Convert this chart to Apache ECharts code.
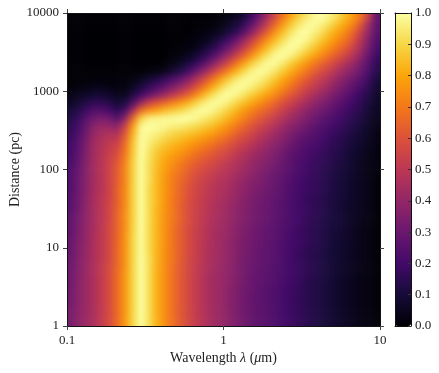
<!DOCTYPE html>
<html>
<head>
<meta charset="utf-8">
<style>
html,body{margin:0;padding:0;background:#fff}
#page{position:relative;width:439px;height:373px;overflow:hidden}
#plotWindow{position:absolute;left:67px;top:13px;width:313px;height:313px;overflow:hidden}
/* the heatmap runs 2 cells past the frame so the blur does not fade at the edges */
#heat{position:absolute;left:-16px;top:-16px;width:345px;height:345px;filter:blur(3px)}
#main{position:absolute;left:0;top:0;width:439px;height:373px}
</style>
<script src="https://cdn.jsdelivr.net/npm/echarts@6/dist/echarts.min.js"></script>
</head>
<body>
<div id="page">
<div id="plotWindow"><div id="heat"></div></div>
<div id="main"></div>
</div>
<script>
// values in percent of the colour range, top row (10000 pc) first, left column (0.1 um) first
var fluxRows = [
[0,0,0,0,0,0,0,0,0,0,0,0,0,0,0,0,0,0,0,1,2,4,9,18,29,42,55,68,78,87,93,98,100,97,92,85,78,70,54,28],
[0,0,0,0,0,0,0,0,0,0,0,0,0,0,0,0,0,1,1,2,5,9,16,26,38,51,64,76,86,93,98,99,97,92,86,80,73,62,44,27],
[0,0,0,0,0,0,0,0,0,0,0,0,0,0,0,0,1,2,3,5,9,15,24,36,49,62,74,84,92,98,100,97,92,86,80,74,66,54,40,26],
[0,0,0,0,0,0,0,0,0,0,0,0,0,0,0,1,2,4,7,12,19,28,39,51,63,74,83,91,97,100,98,93,87,81,75,69,61,49,36,24],
[0,0,0,0,0,0,0,0,0,0,0,0,0,0,1,2,4,8,13,20,29,39,50,62,73,83,91,97,100,98,93,87,81,75,69,63,55,45,33,22],
[0,0,0,0,0,0,0,0,0,0,0,0,0,1,2,5,9,15,22,31,41,52,63,74,84,92,98,100,97,92,86,80,74,68,62,56,49,40,29,19],
[0,0,0,0,0,0,0,0,0,0,0,0,1,3,6,11,17,25,35,45,56,67,78,87,94,99,99,95,89,83,77,71,65,60,54,48,42,34,25,16],
[0,0,0,0,0,0,0,0,0,0,1,2,4,8,13,20,29,39,50,61,71,81,89,96,99,98,94,88,82,76,70,64,58,53,47,41,36,30,22,14],
[0,0,1,1,1,1,1,1,3,5,9,12,17,22,28,36,46,56,67,77,86,93,98,99,97,93,87,81,75,69,63,57,52,47,41,36,31,26,19,11],
[1,2,3,4,4,3,2,2,6,11,17,22,28,34,41,49,59,69,79,88,95,99,99,96,92,87,81,75,69,63,57,52,47,42,37,32,27,22,16,9],
[3,5,7,9,9,7,5,5,12,20,28,35,42,49,56,64,73,83,91,97,100,98,94,89,84,79,74,68,62,57,51,46,41,37,32,28,23,18,13,8],
[6,9,13,16,16,13,9,11,24,40,53,60,65,71,76,82,89,95,99,99,96,91,86,81,76,71,66,60,55,50,45,40,36,32,28,24,20,16,11,7],
[9,13,19,24,24,21,15,22,44,67,74,79,84,87,90,94,98,100,98,94,89,84,78,73,68,64,59,54,49,44,39,35,31,28,24,21,17,14,9,6],
[12,17,25,31,33,31,25,38,66,88,96,97,98,99,100,100,98,95,92,88,83,78,72,67,62,58,53,48,43,39,35,31,27,24,21,18,15,12,8,5],
[15,20,29,37,41,40,38,54,78,98,100,99,98,96,95,93,91,88,85,81,76,71,66,61,56,52,47,43,38,35,31,27,24,21,19,16,13,10,7,4],
[17,23,32,41,45,47,47,62,83,99,98,96,93,90,88,86,84,81,78,74,70,65,60,56,51,47,43,39,35,31,28,25,22,19,17,14,12,9,6,3],
[19,25,34,43,47,51,53,66,86,100,96,92,88,85,83,80,77,74,71,67,63,59,55,51,47,43,39,36,32,28,25,23,20,17,15,13,10,8,5,3],
[20,26,35,44,48,53,57,69,87,100,94,88,84,81,78,75,71,68,65,61,58,54,50,47,43,40,36,33,29,26,23,21,18,16,14,12,9,7,4,2],
[21,27,36,44,49,54,60,71,88,100,93,86,81,77,74,70,66,63,60,57,54,50,47,43,40,37,34,31,27,24,22,19,17,15,13,11,8,6,4,2],
[22,28,37,44,49,55,62,73,89,100,92,85,79,74,70,66,62,59,56,53,50,47,44,41,38,35,32,29,26,23,20,18,16,14,12,10,8,5,3,2],
[23,29,37,44,49,55,63,73,89,100,92,84,78,72,68,63,59,56,53,50,48,45,42,39,36,33,30,28,25,22,20,17,15,13,11,9,7,5,3,1],
[24,30,38,44,49,55,63,73,89,100,92,84,77,71,66,62,57,54,51,48,46,43,40,37,35,32,29,27,24,21,19,17,15,13,11,9,7,5,3,1],
[24,30,38,44,49,55,64,74,89,100,91,84,77,71,65,60,56,53,50,47,45,42,39,36,34,31,29,26,24,21,19,17,15,13,11,9,7,5,3,1],
[25,31,38,45,50,55,64,74,89,100,91,84,77,70,65,60,55,52,49,46,44,41,38,35,33,30,28,26,23,21,18,16,14,12,11,9,7,5,3,1],
[25,31,39,45,50,56,64,74,89,100,91,84,77,70,64,59,55,51,48,45,43,40,37,34,32,30,27,25,23,20,18,16,14,12,10,8,7,5,3,1],
[26,32,39,45,50,56,65,75,89,100,91,83,76,70,64,59,54,51,47,45,42,39,36,34,31,29,27,25,22,20,18,16,14,12,10,8,6,5,3,1],
[27,33,39,45,50,56,65,75,89,100,91,83,76,70,64,59,54,50,47,44,42,39,36,33,31,29,26,24,22,20,17,15,13,11,10,8,6,4,3,1],
[27,33,40,45,51,57,65,75,89,100,91,83,76,69,63,58,54,50,46,44,41,38,35,33,30,28,26,24,22,19,17,15,13,11,10,8,6,4,2,1],
[28,34,40,46,51,57,65,76,90,100,91,83,76,69,63,58,53,50,46,43,41,38,35,32,30,28,26,24,21,19,17,15,13,11,9,8,6,4,2,1],
[29,35,40,46,51,57,66,76,90,100,91,83,76,69,63,58,53,49,46,43,40,37,34,32,30,27,25,23,21,19,17,15,13,11,9,7,6,4,2,1],
[29,35,41,46,51,57,66,76,90,100,91,83,75,69,63,58,53,49,45,43,40,37,34,31,29,27,25,23,21,18,16,14,12,10,9,7,6,4,2,1],
[30,36,41,46,51,57,66,76,90,100,92,83,75,69,63,57,53,49,45,43,40,37,33,31,29,27,25,23,20,18,16,14,12,10,9,7,5,4,2,1],
[30,36,41,46,52,58,66,76,90,100,92,82,75,68,62,57,52,48,45,42,39,36,33,30,28,26,24,22,20,18,16,14,12,10,8,7,5,4,2,1],
[31,36,42,46,52,58,67,77,90,100,92,82,75,68,62,57,52,48,44,42,39,36,33,30,28,26,24,22,20,18,16,14,12,10,8,7,5,3,2,1],
[31,37,42,46,52,58,67,77,90,100,92,82,75,68,62,57,52,48,44,42,39,36,33,30,28,26,24,22,20,18,15,13,11,10,8,6,5,3,2,1],
[32,37,42,46,52,58,67,77,90,100,92,82,75,68,62,57,52,48,44,42,38,35,32,30,27,25,23,21,19,17,15,13,11,9,8,6,5,3,2,1],
[32,37,42,46,52,58,67,77,90,100,92,82,75,68,62,57,52,48,44,42,38,35,32,29,27,25,23,21,19,17,15,13,11,9,8,6,5,3,2,1],
[33,38,42,46,52,58,67,77,90,100,92,82,75,68,62,57,52,48,44,42,38,35,32,29,27,25,23,21,19,17,15,13,11,9,8,6,5,3,2,1],
[33,38,42,46,52,58,67,77,90,100,92,82,75,68,62,57,52,48,44,42,38,35,32,29,27,25,23,21,19,17,15,13,11,9,8,6,5,3,2,1],
[33,38,42,46,52,58,67,77,90,100,92,82,75,68,62,57,52,48,44,42,38,35,32,29,27,25,23,21,19,17,15,13,11,9,8,6,5,3,2,1]
];
var wavelengthTicks = [0.1, 1, 10];
var distanceTicks = [1, 10, 100, 1000, 10000];
var infernoStops = ['#000004','#160b39','#420a68','#6a176e','#932667','#bc3754','#dd513a','#f37819','#fca50a','#f6d746','#fcffa4'];

var fontName = '"Liberation Serif", serif';
var inkColor = '#222';
var edgeCells = 2;

var nCols = fluxRows[0].length, nRows = fluxRows.length;
var cols = [], rows = [], cells = [];
for (var c = -edgeCells; c < nCols + edgeCells; c++) cols.push(c);
for (var r = -edgeCells; r < nRows + edgeCells; r++) rows.push(r);
// cells outside the frame repeat the nearest edge value, they are clipped by #plotWindow
rows.forEach(function (rv, ri) {
    var row = fluxRows[Math.min(nRows - 1, Math.max(0, rv))];
    cols.forEach(function (cv, ci) {
        cells.push([ci, ri, row[Math.min(nCols - 1, Math.max(0, cv))] / 100]);
    });
});

var heatChart = echarts.init(document.getElementById('heat'));
heatChart.setOption({
    animation: false,
    grid: {left: 0, top: 0, right: 0, bottom: 0, outerBoundsMode: 'none'},
    xAxis: {type: 'category', data: cols, show: false},
    yAxis: {type: 'category', data: rows, inverse: true, show: false},
    visualMap: {show: false, min: 0, max: 1, seriesIndex: 0, inRange: {color: infernoStops}},
    series: [{type: 'heatmap', data: cells, progressive: 0, emphasis: {disabled: true}}]
});

// log axis used only for ticks and the frame, the heatmap sits in its own chart underneath
function logAxis(position, ticks, showLabel, name, nameGap) {
    return {
        type: 'log',
        logBase: 10,
        gridIndex: 0,
        position: position,
        min: ticks[0],
        max: ticks[ticks.length - 1],
        z: 10,
        name: name,
        nameLocation: 'middle',
        nameGap: nameGap,
        nameMoveOverlap: false,
        nameTextStyle: {
            fontFamily: fontName, fontSize: 14, color: inkColor,
            rich: {i: {fontFamily: fontName, fontStyle: 'italic', fontSize: 14, color: inkColor}}
        },
        axisLine: {show: true, onZero: false, lineStyle: {color: '#111', width: 1}},
        axisTick: {show: true, inside: false, length: 4, lineStyle: {color: '#444', width: 1}},
        minorTick: {show: false},
        splitLine: {show: false},
        minorSplitLine: {show: false},
        axisLabel: {
            show: showLabel, margin: 8, fontFamily: fontName, fontSize: 13, color: inkColor,
            showMinLabel: true, showMaxLabel: true,
            formatter: function (v) { return String(v); }
        }
    };
}

function barAxis(position) {
    return {
        type: 'value', gridIndex: 1, position: position, min: 0, max: 1, z: 10,
        axisLine: {show: true, onZero: false, lineStyle: {color: '#111'}},
        axisTick: {show: false}, axisLabel: {show: false}, splitLine: {show: false}
    };
}

var myChart = echarts.init(document.getElementById('main'));
myChart.setOption({
    animation: false,
    grid: [
        {left: 67, top: 13, width: 313, height: 313, outerBoundsMode: 'none'},
        {left: 395, top: 13, width: 16, height: 313, outerBoundsMode: 'none'}
    ],
    xAxis: [
        logAxis('bottom', wavelengthTicks, true, 'Wavelength {i|λ} ({i|μ}m)', 25),
        logAxis('top', wavelengthTicks, false),
        barAxis('bottom'),
        barAxis('top')
    ],
    yAxis: [
        logAxis('left', distanceTicks, true, 'Distance (pc)', 45),
        logAxis('right', distanceTicks, false),
        {type: 'value', gridIndex: 1, position: 'right', min: 0, max: 1, interval: 0.1, z: 10,
            axisLine: {show: true, onZero: false, lineStyle: {color: '#111'}},
            axisTick: {show: true, inside: true, length: 3, lineStyle: {color: '#333'}},
            splitLine: {show: false},
            axisLabel: {margin: 4, fontFamily: fontName, fontSize: 13, color: inkColor,
                showMinLabel: true, showMaxLabel: true,
                formatter: function (v) { return v.toFixed(1); }}},
        barAxis('left')
    ],
    visualMap: {
        type: 'continuous',
        seriesIndex: [],
        min: 0,
        max: 1,
        calculable: false,
        hoverLink: false,
        left: 395,
        top: 13,
        padding: 0,
        itemWidth: 16,
        itemHeight: 313,
        text: null,
        showLabel: false,
        inRange: {color: infernoStops}
    },
    series: []
});
</script>
</body>
</html>
